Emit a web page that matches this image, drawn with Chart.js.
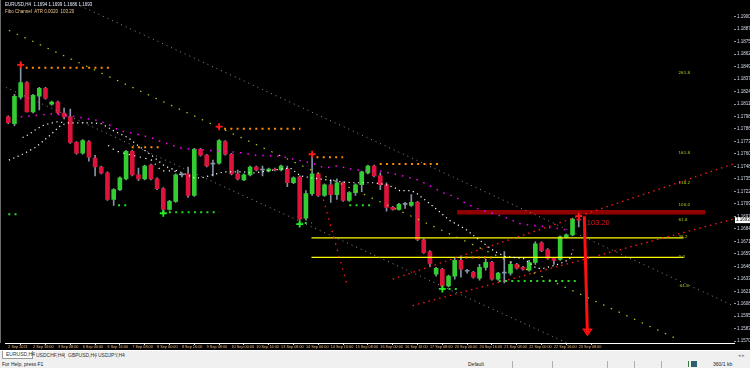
<!DOCTYPE html>
<html>
<head>
<meta charset="utf-8">
<script src="https://cdn.jsdelivr.net/npm/chart.js@4.4.1/dist/chart.umd.min.js"></script>
<style>
  html, body { margin:0; padding:0; width:750px; height:368px; overflow:hidden; background:#f0f0f0; font-family:"Liberation Sans", Arial, sans-serif; }
  #chartBox { position:absolute; left:0; top:0; width:750px; height:350px; background:#000; }
  #tabs { position:absolute; left:0; top:350px; width:750px; height:10px; background:#f0f0f0; border-top:1px solid #ffffff; box-sizing:border-box; }
  .tab { position:absolute; top:0; height:8px; font-size:5px; line-height:8px; color:#333; white-space:nowrap; }
  .tab.active { background:#fff; border:1px solid #9a9a9a; border-top:none; line-height:7px; padding:0 3px; box-sizing:border-box; }
  .tabsep { position:absolute; top:2px; width:1px; height:5px; background:#a8a8a8; }
  #status { position:absolute; left:0; top:360px; width:750px; height:8px; background:#f0f0f0; font-size:5px; line-height:8px; color:#222; white-space:nowrap; }
  .cell { position:absolute; top:0; }
  .ssep { position:absolute; top:1px; width:1px; height:7px; background:#b0b0b0; }
</style>
</head>
<body>
<div id="chartBox"><canvas id="c" width="750" height="350"></canvas></div>
<div id="tabs">
  <div class="tab active" style="left:2px;width:31px;">EURUSD,H4</div>
  <div class="tab" style="left:36px;">USDCHF,H4</div>
  <div class="tabsep" style="left:64px;"></div>
  <div class="tab" style="left:68px;">GBPUSD,H4</div>
  <div class="tabsep" style="left:95px;"></div>
  <div class="tab" style="left:98px;">USDJPY,H4</div>
  <div class="tab" style="left:738px;color:#888;">&#9666; &#9656;</div>
</div>
<div id="status">
  <div class="cell" style="left:2px;">For Help, press F1</div>
  <div class="cell" style="left:468px;">Default</div>
  <div class="ssep" style="left:512px;"></div>
  <div class="ssep" style="left:552px;"></div>
  <div class="ssep" style="left:607px;"></div>
  <div class="ssep" style="left:634px;"></div>
  <div class="ssep" style="left:661px;"></div>
  <div class="cell" style="left:688px;top:1px;width:1px;height:6px;background:#3a7a3a;"></div>
  <div class="cell" style="left:691px;top:1px;width:6px;height:6px;background:#2f5f6f;"></div>
  <div class="cell" style="left:713px;">360/1 kb</div>
</div>
<script>
// ---------- DATA ----------
const opens = [1.1798,1.1791,1.1818,1.1833,1.1803,1.1819,1.1827,1.1811,1.1813,1.1802,
  1.1798,1.1772,1.1761,1.1773,1.1756,1.1747,1.1741,1.1714,1.1724,1.1735,
  1.1763,1.1739,1.1735,1.1749,1.1735,1.1725,1.1704,1.1712,1.1739,1.1740,
  1.1718,1.1765,1.1759,1.1750,1.1751,1.1773,1.1760,1.1740,1.1734,1.1739,
  1.1747,1.1744,1.1743,1.1745,1.1744,1.1745,1.1731,1.1737,1.1695,1.1720,
  1.1740,1.1718,1.1729,1.1719,1.1731,1.1713,1.1721,1.1729,1.1741,1.1748,
  1.1738,1.1729,1.1706,1.1704,1.1709,1.1708,1.1711,1.1673,1.1661,1.1638,
  1.1643,1.1626,1.1636,1.1652,1.1641,1.1640,1.1634,1.1645,1.1650,1.1633,
  1.1639,1.1639,1.1648,1.1645,1.1642,1.1650,1.1670,1.1663,1.1654,1.1653,
  1.1676,1.1678,1.1694];
const highs = [1.1799,1.1821,1.1853,1.1834,1.1821,1.1828,1.1828,1.1814,1.1814,1.1807,
  1.1806,1.1773,1.1775,1.1774,1.1759,1.1748,1.1742,1.1725,1.1737,1.1764,
  1.1764,1.1746,1.1749,1.1750,1.1736,1.1726,1.1713,1.1740,1.1741,1.1747,
  1.1766,1.1766,1.1760,1.1754,1.1775,1.1774,1.1761,1.1744,1.1740,1.1748,
  1.1748,1.1748,1.1746,1.1746,1.1749,1.1748,1.1737,1.1738,1.1723,1.1758,
  1.1741,1.1730,1.1734,1.1735,1.1732,1.1722,1.1730,1.1743,1.1749,1.1749,
  1.1741,1.1731,1.1707,1.1710,1.1711,1.1719,1.1712,1.1674,1.1662,1.1645,
  1.1644,1.1637,1.1654,1.1656,1.1643,1.1641,1.1648,1.1653,1.1651,1.1640,
  1.1661,1.1651,1.1649,1.1646,1.1652,1.1671,1.1671,1.1664,1.1655,1.1677,
  1.1679,1.1695,1.1699];
const lows = [1.1791,1.1789,1.1816,1.1803,1.1802,1.1805,1.1816,1.1810,1.1801,1.1796,
  1.1771,1.1760,1.1760,1.1753,1.1738,1.1740,1.1713,1.1708,1.1723,1.1734,
  1.1738,1.1733,1.1734,1.1734,1.1724,1.1701,1.1703,1.1711,1.1737,1.1716,
  1.1717,1.1758,1.1747,1.1738,1.1750,1.1759,1.1739,1.1734,1.1733,1.1738,
  1.1743,1.1738,1.1742,1.1743,1.1743,1.1727,1.1730,1.1693,1.1693,1.1718,
  1.1717,1.1717,1.1711,1.1714,1.1712,1.1712,1.1718,1.1722,1.1740,1.1737,
  1.1724,1.1702,1.1703,1.1703,1.1705,1.1707,1.1672,1.1659,1.1646,1.1636,
  1.1625,1.1625,1.1633,1.1635,1.1639,1.1634,1.1632,1.1642,1.1632,1.1632,
  1.1629,1.1637,1.1643,1.1642,1.1641,1.1648,1.1661,1.1653,1.1648,1.1652,
  1.1675,1.1677,1.1686];
const closes = [1.1792,1.1819,1.1833,1.1803,1.1820,1.1827,1.1817,1.1813,1.1802,1.1798,
  1.1772,1.1761,1.1774,1.1757,1.1747,1.1741,1.1714,1.1724,1.1736,1.1763,
  1.1739,1.1735,1.1748,1.1735,1.1725,1.1704,1.1712,1.1739,1.1739,1.1718,
  1.1765,1.1759,1.1748,1.1750,1.1774,1.1760,1.1740,1.1735,1.1739,1.1747,
  1.1744,1.1744,1.1745,1.1744,1.1748,1.1731,1.1736,1.1694,1.1720,1.1740,
  1.1718,1.1729,1.1719,1.1731,1.1713,1.1721,1.1729,1.1742,1.1748,1.1738,
  1.1729,1.1706,1.1704,1.1709,1.1709,1.1711,1.1673,1.1660,1.1649,1.1644,
  1.1626,1.1636,1.1652,1.1643,1.1641,1.1635,1.1645,1.1650,1.1633,1.1639,
  1.1639,1.1648,1.1644,1.1643,1.1650,1.1669,1.1662,1.1654,1.1652,1.1676,
  1.1678,1.1694,1.1693];

const priceTicks = [1.19000,1.18873,1.18746,1.18619,1.18492,1.18365,1.18238,1.18111,1.17984,
  1.17857,1.17730,1.17603,1.17476,1.17349,1.17222,1.17095,1.16968,1.16841,1.16714,
  1.16587,1.16460,1.16333,1.16206,1.16079,1.15952,1.15825,1.15698];
const dateTickIdx = [0,4,8,12,16,20,24,28,32,36,40,44,48,52,56,60,64,68,72,76,80,84,88,92];
const dateLabels = ["2 Sep 2021","2 Sep 16:00","3 Sep 08:00","6 Sep 00:00","6 Sep 16:00","7 Sep 08:00",
  "8 Sep 00:00","8 Sep 16:00","9 Sep 08:00","10 Sep 00:00","10 Sep 16:00","13 Sep 08:00",
  "14 Sep 00:00","14 Sep 16:00","15 Sep 08:00","16 Sep 00:00","16 Sep 16:00","17 Sep 08:00",
  "20 Sep 00:00","20 Sep 16:00","21 Sep 08:00","22 Sep 00:00","22 Sep 16:00","23 Sep 08:00"];

// moving averages (candle index, price)
const maMagenta = [[2,1.1798],[7,1.1801],[10,1.1799],[14,1.1795],[16,1.1791],[18,1.1784],[21,1.1780],
  [23,1.1777],[25,1.1772],[28,1.1766],[32,1.1764],[37,1.1762],[40,1.1759],[44,1.1758],[46,1.1755],
  [49,1.1751],[51,1.1746],[53,1.1748],[56,1.1744],[60,1.1743],[63,1.1739],[66,1.1734],[68,1.1728],
  [70,1.1721],[72,1.1717],[74,1.1709],[76,1.1704],[79,1.1698],[81,1.1694],[82,1.1690],[84,1.1688],
  [87,1.1686],[90,1.1683]];
const maWhite = [[0.1,1.1754],[2.3,1.1760],[4.4,1.1767],[6.5,1.1778],[8.4,1.1789],[9.5,1.1792],[13.5,1.1792],
  [15.1,1.1791],[17.2,1.1783],[19.3,1.1777],[20.9,1.1769],[23.1,1.1759],[25.2,1.1748],[27.3,1.1743],
  [30.0,1.1736],[31.3,1.1736],[32.9,1.1739],[34.8,1.1742],[38.0,1.1742],[39.6,1.1741],[42.8,1.1744],
  [45.5,1.1746],[47.1,1.1738],[48.9,1.1736],[51.3,1.1734],[53.5,1.1732],[55.6,1.1731],[59.1,1.1731],
  [60.9,1.1729],[62.3,1.1726],[63.1,1.1723],[64.9,1.1723],[65.7,1.1721],[67.3,1.1713],[68.7,1.1706],
  [71.1,1.1693],[73.7,1.1684],[75.9,1.1673],[78.5,1.1661],[80.1,1.1656],[83.1,1.1654],[85.2,1.1644],
  [86.3,1.1644],[88.7,1.1648],[90.5,1.1653],[91.1,1.1663]];
const maWhite2 = [[2.3,1.1777],[3.3,1.1780],[4.4,1.1785],[5.5,1.1789],[6.5,1.1791],[7.9,1.1793],[9.2,1.1792]];
const maWhite3 = [[16.1,1.1769],[17.2,1.1764],[18.0,1.1762],[22.0,1.1756],[23.1,1.1754],[24.7,1.1743],[26.8,1.1743],[28.1,1.1738]];

// trend / channel lines: [startIdx, startPrice, endIdx, endPrice]
const channelTop = [11.6, 1.1911, 116.9, 1.1606];
const channelBottom = [-0.4, 1.1828, 90.8, 1.1566];
const channelMid = [0.1, 1.1886, 107.9, 1.1572];
const redSteep = [50.8, 1.1714, 54.6, 1.1628];
const redUpper = [62.0, 1.1633, 116.9, 1.1750];
const redLower = [65.2, 1.1606, 116.9, 1.1694];

// resistance / support dotted segments: [fromIdx, toIdx, price]
const resistance = [[2.8,16.9,1.1848],[19.9,24.9,1.1767],[34.8,47.1,1.1786],[49.7,54.0,1.1757],[59.9,70.0,1.1750],[73.7,78.0,1.1655]];
const support = [[0,2,1.1699],[17.7,19.1,1.1708],[24.9,34,1.1701],[46.8,48.9,1.1690],[55,59,1.1708],[70,72.9,1.1623],[79.1,91.9,1.1631]];

// fractal markers [idx, price]
const fractalUp = [[2,1.1851],[34,1.1788],[49,1.1760],[92,1.1697]];
const fractalDown = [[25,1.1700],[47,1.1689],[70,1.1623]];

// horizontal objects
const yellowLevels = [1.1675, 1.1655];
const yellowRange = [48.9, 108.9];
const darkRedLevel = 1.1701;
const darkRedRange = [72.4, 112.4];

// target arrow
const arrowX = [92.9, 93.4];
const arrowY = [1.1697, 1.1578];
const moveLabel = "103.20";
const moveLabelAt = [93.3, 1.1690];

// fibo labels
const fibLevels = [1.1843, 1.1761, 1.1731, 1.1708, 1.1693, 1.1676, 1.1656, 1.1626];
const fibNames = ["261.8", "161.8", "138.2", "100.0", "61.8", "38.2", "0.0", "-61.8"];
const fibLabelX = 108.1;

const headerLine1 = "EURUSD,H4  1.1694 1.1699 1.1686 1.1693";
const headerLine2 = "Fibo Channel  ATR 0.0020  103.20";

// ---------- BUILD ----------
const GREEN = '#33cc33', RED = '#dc143c', WICK = '#8494a6';
const bodyColors = opens.map((o, i) => closes[i] > o ? GREEN : (closes[i] < o ? RED : WICK));
const seg = (a) => [{x:a[0], y:a[1]}, {x:a[2], y:a[3]}];
const pts = (arr) => arr.map(p => ({x:p[0], y:p[1]}));
const lineDs = (data, color, dash, width, order) => ({
  type:'line', data, borderColor:color, borderDash:dash, borderWidth:width,
  pointRadius:0, fill:false, tension:0, order: order ?? 1
});

const datasets = [];
datasets.push({ type:'bar', data: lows.map((l,i)=>({x:i, y:[l, highs[i]]})), backgroundColor: WICK,
  barThickness:1, grouped:false, order:20 });
datasets.push({ type:'bar', data: opens.map((o,i)=>({x:i, y:[o, closes[i]]})), backgroundColor: bodyColors,
  barThickness:4, grouped:false, minBarLength:1, order:19 });

datasets.push(lineDs(seg(channelTop), '#8c8c8c', [1,4], 1));
datasets.push(lineDs(seg(channelBottom), '#8c8c8c', [1,4], 1));
datasets.push(lineDs(seg(channelMid), '#a8cc22', [1.5,7], 1.2));
datasets.push(lineDs(seg(redSteep), '#ff1a1a', [1.5,5], 1.3));
datasets.push(lineDs(seg(redUpper), '#ff1a1a', [1.5,4], 1.3));
datasets.push(lineDs(seg(redLower), '#ff1a1a', [1.5,4], 1.3));
datasets.push(lineDs(pts(maMagenta), '#ff00ff', [1.5,6], 1.5));
datasets.push(lineDs(pts(maWhite), '#ffffff', [1.2,3.5], 1.2));
datasets.push(lineDs(pts(maWhite2), '#ffffff', [1.2,3.5], 1.2));
datasets.push(lineDs(pts(maWhite3), '#ffffff', [1.2,4.5], 1.2));
resistance.forEach(r => datasets.push(lineDs([{x:r[0],y:r[2]},{x:r[1],y:r[2]}], '#ff8c00', [2,4.25], 2)));
support.forEach(r => datasets.push(lineDs([{x:r[0],y:r[2]},{x:r[1],y:r[2]}], '#22dd22', [2,4.25], 2)));
yellowLevels.forEach(p => datasets.push(lineDs([{x:yellowRange[0],y:p},{x:yellowRange[1],y:p}], '#ffff00', [], 1.2)));
datasets.push(lineDs([{x:darkRedRange[0],y:darkRedLevel},{x:darkRedRange[1],y:darkRedLevel}], '#900000', [], 4.5));
datasets.push(lineDs(pts(arrowX.map((v,i)=>[v, arrowY[i]])), '#ff1010', [], 3, 0));
datasets.push({ type:'scatter', data: pts(fractalUp), pointStyle:'cross', pointRadius:3.5, borderWidth:1.8,
  borderColor:'#ff1a1a', backgroundColor:'#ff1a1a', order:0 });
datasets.push({ type:'scatter', data: pts(fractalDown), pointStyle:'cross', pointRadius:3.5, borderWidth:1.8,
  borderColor:'#22ee22', backgroundColor:'#22ee22', order:0 });

const overlay = {
  id:'overlay',
  beforeDraw(chart) {
    const c = chart.ctx; c.save(); c.fillStyle = '#000'; c.fillRect(0,0,chart.width,chart.height); c.restore();
  },
  afterDatasetsDraw(chart) {
    const {ctx, scales:{x, y}} = chart;
    ctx.save();
    const hx = x.getPixelForValue(arrowX[1]), hy = y.getPixelForValue(arrowY[1]);
    ctx.strokeStyle = '#ff1010'; ctx.lineWidth = 1.5;
    ctx.beginPath(); ctx.moveTo(hx-4, hy-4); ctx.lineTo(hx+4, hy-4); ctx.lineTo(hx, hy+2); ctx.closePath(); ctx.stroke();
    ctx.font = '7.5px "Liberation Sans", Arial, sans-serif';
    ctx.fillStyle = '#e01818'; ctx.textBaseline = 'middle'; ctx.textAlign = 'left';
    ctx.fillText(moveLabel, x.getPixelForValue(moveLabelAt[0]), y.getPixelForValue(moveLabelAt[1]));
    ctx.font = '4px "DejaVu Sans", sans-serif'; ctx.fillStyle = '#b4c814';
    fibLevels.forEach((p, i) => ctx.fillText(fibNames[i], x.getPixelForValue(fibLabelX), y.getPixelForValue(p)));
    ctx.restore();
  },
  afterDraw(chart) {
    const {ctx, scales:{y}, chartArea} = chart;
    ctx.save();
    ctx.fillStyle = '#6a6a6a'; ctx.fillRect(0, 0, 1, chartArea.bottom);
    const lastPrice = closes[closes.length-1];
    const py = y.getPixelForValue(lastPrice);
    ctx.fillStyle = '#ffffff'; ctx.fillRect(chartArea.right + 1, py - 3, 15, 6);
    ctx.fillStyle = '#000'; ctx.font = '4.5px "Liberation Sans", Arial'; ctx.textBaseline = 'middle'; ctx.textAlign = 'left';
    ctx.fillText(lastPrice.toFixed(4), chartArea.right + 2, py);
    ctx.font = '4.5px "Liberation Sans", Arial';
    ctx.fillStyle = '#e6ecff'; ctx.fillText(headerLine1, 5, 5);
    ctx.fillStyle = '#f0c890'; ctx.fillText(headerLine2, 5, 12);
    ctx.restore();
  }
};

new Chart(document.getElementById('c'), {
  type:'bar',
  data:{ datasets },
  plugins:[overlay],
  options:{
    responsive:false, animation:false, devicePixelRatio:1,
    layout:{ padding:0 },
    plugins:{ legend:{display:false}, tooltip:{enabled:false} },
    scales:{
      x:{
        type:'linear', min:-0.4, max:117.04, offset:false, position:'bottom',
        afterFit(s){ s.height = 7; },
        afterBuildTicks(s){ s.ticks = dateTickIdx.map(v => ({value:v})); },
        grid:{ display:true, drawOnChartArea:false, drawTicks:true, tickLength:2, color:'#dddddd' },
        border:{ display:true, color:'#ffffff', width:1 },
        ticks:{ autoSkip:false, maxRotation:0, minRotation:0, align:'start', padding:0,
          color:'#f2b878', font:{ size:3.8, family:'"Liberation Sans Narrow","Liberation Sans",Arial' },
          callback:(v, i) => dateLabels[i] }
      },
      y:{
        type:'linear', position:'right', min:1.1568, max:1.1911,
        afterFit(s){ s.width = 16; },
        afterBuildTicks(s){ s.ticks = priceTicks.map(v => ({value:v})); },
        grid:{ display:true, drawOnChartArea:false, drawTicks:true, tickLength:2, color:'#9a9a9a' },
        border:{ display:false },
        ticks:{ padding:1, color:'#d4dcec', font:{ size:4.5, family:'"Liberation Sans Narrow","Liberation Sans",Arial' },
          callback:(v) => Number(v).toFixed(4) }
      }
    }
  }
});
</script>
</body>
</html>
